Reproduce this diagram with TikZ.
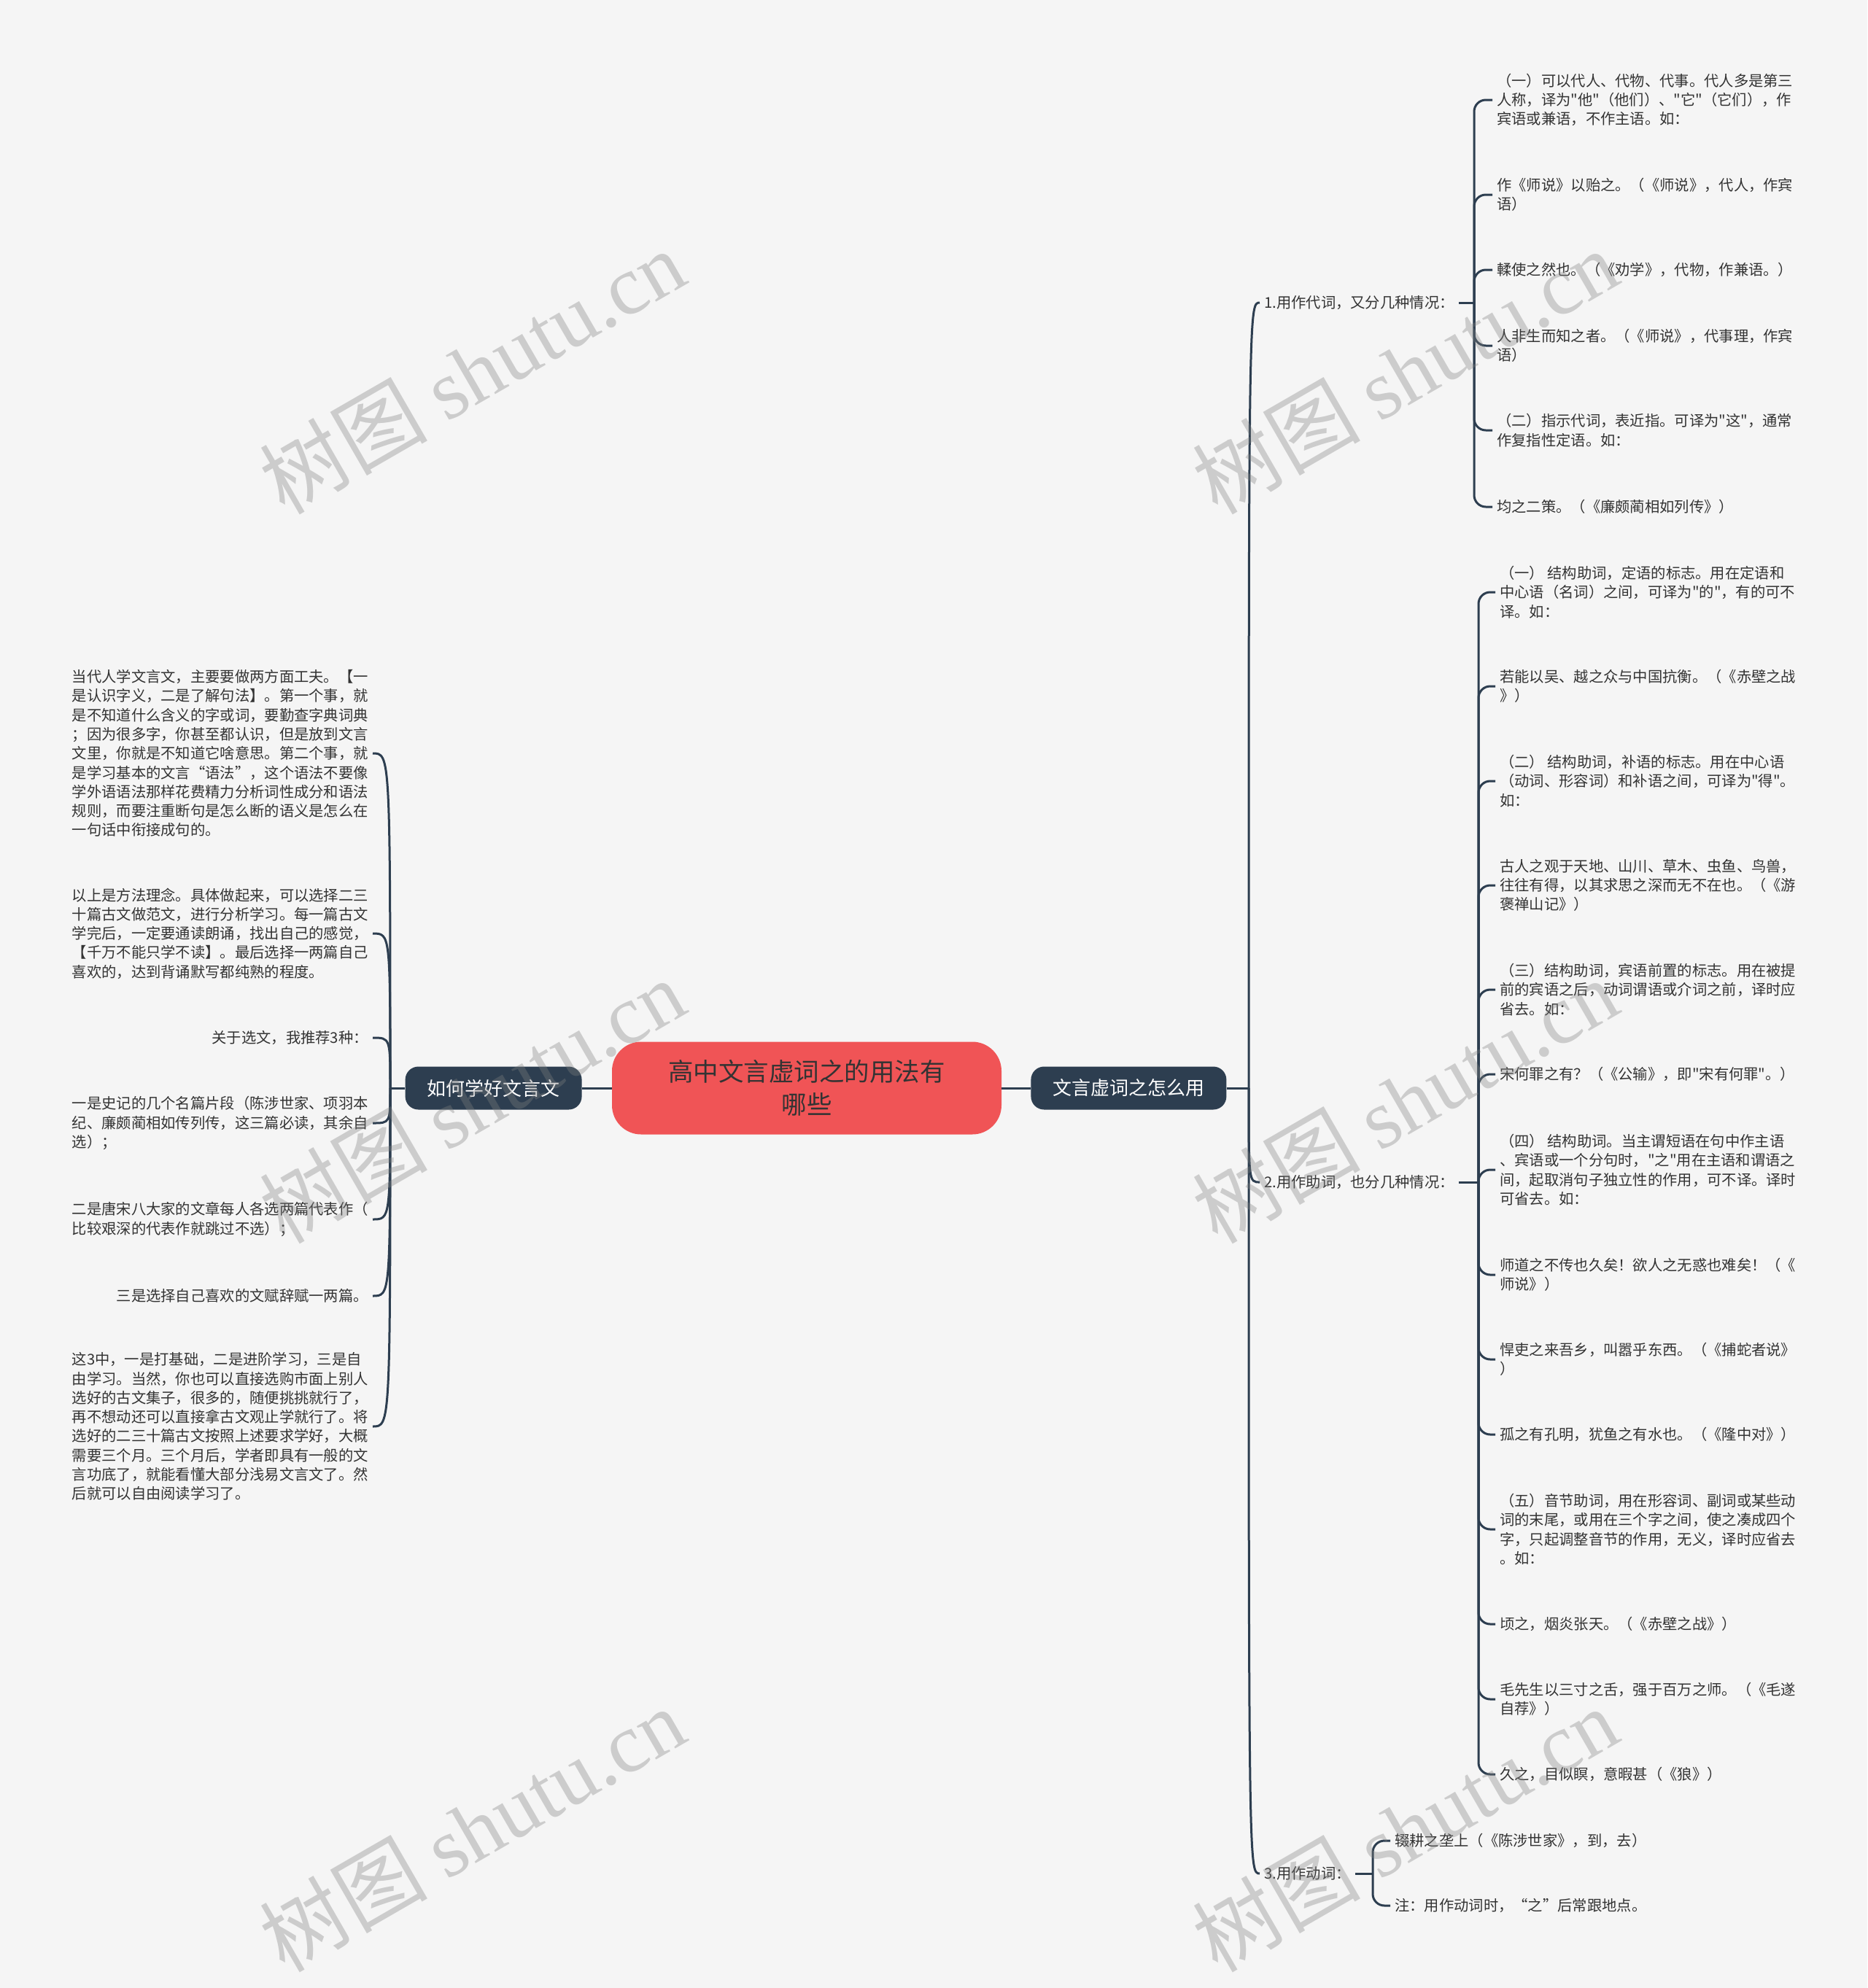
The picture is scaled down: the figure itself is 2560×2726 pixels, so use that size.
\documentclass[tikz,border=0pt]{standalone}
\usepackage{fontspec}
\setmainfont{Noto Sans CJK SC}[Ligatures=TeXOff]
\newfontfamily\markfont{Liberation Serif}
\usepackage{xcolor}
\usetikzlibrary{positioning}
\definecolor{bgcol}{HTML}{F5F5F5}
\definecolor{rootcol}{HTML}{F05456}
\definecolor{navy}{HTML}{2D3E50}
\definecolor{txt}{HTML}{333333}

\begin{document}
\begin{tikzpicture}[
  x=1pt, y=-1pt,
  link/.style={draw=navy, line width=3pt},
  brace/.style={link, rounded corners=16pt},
  rootbox/.style={fill=rootcol, rounded corners=40pt, minimum width=534pt,
                  minimum height=127pt, align=center, text=txt,
                  font=\fontsize{34.5pt}{45pt}\selectfont},
  branch/.style={fill=navy, rounded corners=18pt, minimum height=59pt,
                 inner xsep=30pt, text=white, font=\fontsize{26pt}{30pt}\selectfont},
  leaf/.style={align=left, inner xsep=6pt, inner ysep=4pt, text=txt,
               font=\fontsize{20.3pt}{26.3pt}\selectfont},
  wmark/.style={rotate=30, text=gray, text opacity=0.35,
                font=\fontsize{115pt}{115pt}\selectfont}
]
\useasboundingbox (0,0) rectangle (2560,2726);
\fill[bgcol] (0,0) rectangle (2560,2726);

% centre and main branches
\node[rootbox] (root) at (1106,1492) {高中文言虚词之的用法有\\哪些};
\node[branch, left=41pt of root] (learn) {如何学好文言文};
\node[branch, right=40pt of root] (usage) {文言虚词之怎么用};
\coordinate (jl) at (535,1492);
\coordinate (jr) at (1712,1492);

% right side
\node[leaf, anchor=west] (p1) at (1727,415) {1.用作代词，又分几种情况：};
\node[leaf, anchor=west] (p2) at (1727,1621) {2.用作助词，也分几种情况：};
\node[leaf, anchor=west] (p3) at (1727,2569) {3.用作动词：};
\coordinate (k1) at (2021,415);
\coordinate (k2) at (2027,1621);
\coordinate (k3) at (1882,2569);

\node[leaf, anchor=west] (p1a) at (2046,137) {（一）可以代人、代物、代事。代人多是第三\\人称，译为"他"（他们）、"它"（它们），作\\宾语或兼语，不作主语。如：};
\node[leaf, anchor=west] (p1b) at (2046,267) {作《师说》以贻之。（《师说》，代人，作宾\\语）};
\node[leaf, anchor=west] (p1c) at (2046,370) {輮使之然也。（《劝学》，代物，作兼语。）};
\node[leaf, anchor=west] (p1d) at (2046,474) {人非生而知之者。（《师说》，代事理，作宾\\语）};
\node[leaf, anchor=west] (p1e) at (2046,590) {（二）指示代词，表近指。可译为"这"，通常\\作复指性定语。如：};
\node[leaf, anchor=west] (p1f) at (2046,695) {均之二策。（《廉颇蔺相如列传》）};

\node[leaf, anchor=west] (p2a) at (2050,812) {（一） 结构助词，定语的标志。用在定语和\\中心语（名词）之间，可译为"的"，有的可不\\译。如：};
\node[leaf, anchor=west] (p2b) at (2050,941) {若能以吴、越之众与中国抗衡。（《赤壁之战\\》）};
\node[leaf, anchor=west] (p2c) at (2050,1071) {（二） 结构助词，补语的标志。用在中心语\\（动词、形容词）和补语之间，可译为"得"。\\如：};
\node[leaf, anchor=west] (p2d) at (2050,1214) {古人之观于天地、山川、草木、虫鱼、鸟兽，\\往往有得，以其求思之深而无不在也。（《游\\褒禅山记》）};
\node[leaf, anchor=west] (p2e) at (2050,1357) {（三）结构助词，宾语前置的标志。用在被提\\前的宾语之后，动词谓语或介词之前，译时应\\省去。如：};
\node[leaf, anchor=west] (p2f) at (2050,1473) {宋何罪之有？（《公输》，即"宋有何罪"。）};
\node[leaf, anchor=west] (p2g) at (2050,1604) {（四） 结构助词。当主谓短语在句中作主语\\、宾语或一个分句时，"之"用在主语和谓语之\\间，起取消句子独立性的作用，可不译。译时\\可省去。如：};
\node[leaf, anchor=west] (p2h) at (2050,1748) {师道之不传也久矣！欲人之无惑也难矣！（《\\师说》）};
\node[leaf, anchor=west] (p2i) at (2050,1864) {悍吏之来吾乡，叫嚣乎东西。（《捕蛇者说》\\）};
\node[leaf, anchor=west] (p2j) at (2050,1967) {孤之有孔明，犹鱼之有水也。（《隆中对》）};
\node[leaf, anchor=west] (p2k) at (2050,2097) {（五）音节助词，用在形容词、副词或某些动\\词的末尾，或用在三个字之间，使之凑成四个\\字，只起调整音节的作用，无义，译时应省去\\。如：};
\node[leaf, anchor=west] (p2l) at (2050,2227) {顷之，烟炎张天。（《赤壁之战》）};
\node[leaf, anchor=west] (p2m) at (2050,2330) {毛先生以三寸之舌，强于百万之师。（《毛遂\\自荐》）};
\node[leaf, anchor=west] (p2n) at (2050,2433) {久之，目似瞑，意暇甚（《狼》）};

\node[leaf, anchor=west] (p3a) at (1906,2524) {辍耕之垄上（《陈涉世家》，到，去）};
\node[leaf, anchor=west] (p3b) at (1906,2613) {注：用作动词时，“之”后常跟地点。};

% left side
\node[leaf, anchor=east] (s1) at (511,1033) {当代人学文言文，主要要做两方面工夫。【一\\是认识字义，二是了解句法】。第一个事，就\\是不知道什么含义的字或词，要勤查字典词典\\；因为很多字，你甚至都认识，但是放到文言\\文里，你就是不知道它啥意思。第二个事，就\\是学习基本的文言“语法”，这个语法不要像\\学外语语法那样花费精力分析词性成分和语法\\规则，而要注重断句是怎么断的语义是怎么在\\一句话中衔接成句的。};
\node[leaf, anchor=east] (s2) at (511,1280) {以上是方法理念。具体做起来，可以选择二三\\十篇古文做范文，进行分析学习。每一篇古文\\学完后，一定要通读朗诵，找出自己的感觉，\\【千万不能只学不读】。最后选择一两篇自己\\喜欢的，达到背诵默写都纯熟的程度。};
\node[leaf, anchor=east] (s3) at (511,1423) {关于选文，我推荐3种：};
\node[leaf, anchor=east] (s4) at (511,1540) {一是史记的几个名篇片段（陈涉世家、项羽本\\纪、廉颇蔺相如传列传，这三篇必读，其余自\\选）；};
\node[leaf, anchor=east] (s5) at (511,1672) {二是唐宋八大家的文章每人各选两篇代表作（\\比较艰深的代表作就跳过不选）；};
\node[leaf, anchor=east] (s6) at (511,1777) {三是选择自己喜欢的文赋辞赋一两篇。};
\node[leaf, anchor=east] (s7) at (511,1956) {这3中，一是打基础，二是进阶学习，三是自\\由学习。当然，你也可以直接选购市面上别人\\选好的古文集子，很多的，随便挑挑就行了，\\再不想动还可以直接拿古文观止学就行了。将\\选好的二三十篇古文按照上述要求学好，大概\\需要三个月。三个月后，学者即具有一般的文\\言功底了，就能看懂大部分浅易文言文了。然\\后就可以自由阅读学习了。};

% connectors
\draw[link] (root) -- (learn);
\draw[link] (root) -- (usage);
\draw[link] (learn.west) -- (jl);
\draw[link] (usage.east) -- (jr);
\foreach \s in {s1,s2,s3,s4,s5,s6,s7}
  \draw[link] (jl) .. controls (jl |- \s.east) .. (\s.east);
\foreach \p in {p1,p2,p3}
  \draw[link] (jr) .. controls (jr |- \p.west) .. (\p.west);
\draw[link] (p1.east) -- (k1);
\draw[link] (p2.east) -- (k2);
\draw[link] (p3.east) -- (k3);
\foreach \l in {p1a,p1b,p1c,p1d,p1e,p1f}
  \draw[brace] (k1) |- (\l.west);
\foreach \l in {p2a,p2b,p2c,p2d,p2e,p2f,p2g,p2h,p2i,p2j,p2k,p2l,p2m,p2n}
  \draw[brace] (k2) |- (\l.west);
\foreach \l in {p3a,p3b}
  \draw[brace] (k3) |- (\l.west);

% watermarks
\foreach \wx in {647,1926}
  \foreach \wy in {509,1509,2508}
    \node[wmark] (wm\wx\wy) at (\wx,\wy) {树图 {\markfont shutu.cn}};
\end{tikzpicture}
\end{document}
